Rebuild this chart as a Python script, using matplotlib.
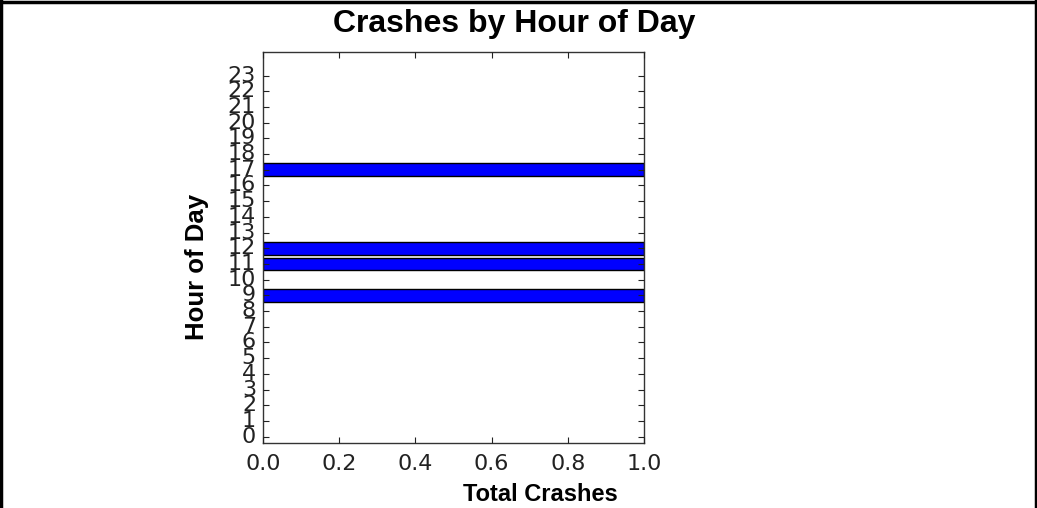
import matplotlib
matplotlib.use("Agg")
import matplotlib.pyplot as plt
from matplotlib.lines import Line2D

# Crash counts per hour of day (only hours with crashes are listed)
hours = [9, 11, 12, 17]
crashes = [1, 1, 1, 1]
hour_ticks = list(range(24))
x_ticks = [0.0, 0.2, 0.4, 0.6, 0.8, 1.0]

plt.style.use("classic")
fig = plt.figure(figsize=(10.37, 5.08), dpi=100, facecolor="white")
ax = fig.add_axes([0.2536, 0.1280, 0.3674, 0.7697])

ax.barh(hours, crashes, height=0.8, align="center",
        color="#0000ff", edgecolor="black", linewidth=1.0)

ax.set_xlim(0, 1)
ax.set_ylim(-0.4, 24.5)
ax.set_yticks(hour_ticks)
ax.set_yticklabels([str(h) for h in hour_ticks])
ax.set_xticks(x_ticks)
ax.set_xticklabels([f"{v:.1f}" for v in x_ticks])

ax.tick_params(axis="both", direction="in", length=4, width=0.8,
               top=True, right=True, labelsize=16, colors="#222222")
ax.tick_params(axis="x", pad=8)
ax.tick_params(axis="y", pad=5)
for s in ax.spines.values():
    s.set_linewidth(1.0)
    s.set_color("#333333")

bold = dict(family="Liberation Sans", weight="bold", color="black")
fig.text(0.4957, 0.937, "Crashes by Hour of Day", ha="center", va="baseline",
         fontsize=23, **bold)
fig.text(0.5207, 0.0138, "Total Crashes", ha="center", va="baseline",
         fontsize=17, **bold)
fig.text(0.1900, 0.4745, "Hour of Day", ha="center", va="center",
         rotation=90, fontsize=18.5, **bold)

# Frame around the figure (left, top, right)
frame_kw = dict(transform=fig.transFigure, color="black", linewidth=2.5)
fig.add_artist(Line2D([0.001, 0.001], [0, 1], **frame_kw))
fig.add_artist(Line2D([0, 1], [0.997, 0.997], **frame_kw))
fig.add_artist(Line2D([0.999, 0.999], [0, 1], **frame_kw))

fig.savefig("out.png", dpi=100, facecolor="white")
